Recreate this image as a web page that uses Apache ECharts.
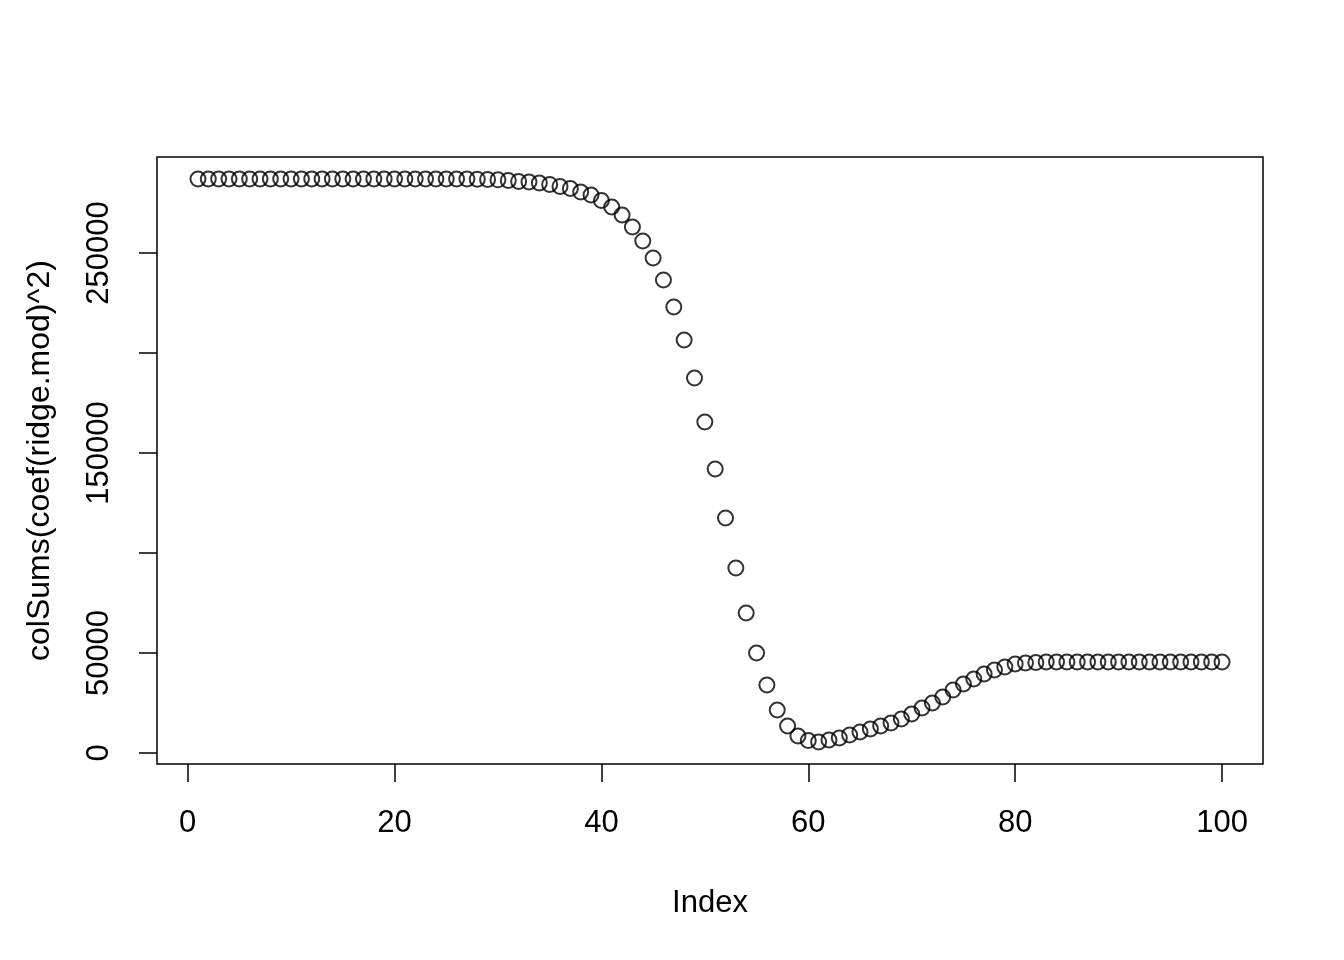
<!DOCTYPE html>
<html>
<head>
<meta charset="utf-8">
<script src="https://cdn.jsdelivr.net/npm/echarts@6/dist/echarts.min.js"></script>
<style>html,body{margin:0;padding:0;background:#fff}#c{width:1344px;height:960px}</style>
</head>
<body>
<div id="c"></div>
<script>
const xLabel = 'Index';
const yLabel = 'colSums(coef(ridge.mod)^2)';
const xTicks = [0, 20, 40, 60, 80, 100];
const yTicks = [0, 50000, 100000, 150000, 200000, 250000];
const yTickLabels = [0, 50000, 150000, 250000];
const values = [
  287000, 287000, 287000, 287000, 287000, 287000, 287000, 287000, 287000, 287000,
  287000, 287000, 287000, 287000, 287000, 287000, 287000, 287000, 287000, 287000,
  287000, 287000, 287000, 287000, 287000, 287000, 287000, 286900, 286800, 286600,
  286300, 285800, 285500, 285000, 284300, 283300, 282250, 280500, 279000, 276250,
  273000, 269000, 263000, 256000, 247500, 236500, 223000, 206500, 187500, 165500,
  142000, 117500, 92500, 70000, 50000, 34000, 21500, 13500, 8500, 6250,
  5500, 6500, 7500, 9000, 10500, 12000, 13500, 15000, 17000, 19500,
  22500, 25000, 28000, 31500, 34500, 37000, 39500, 41500, 43000, 44500,
  45000, 45250, 45500, 45500, 45500, 45500, 45500, 45500, 45500, 45500,
  45500, 45500, 45500, 45500, 45500, 45500, 45500, 45500, 45500, 45500
];
const data = values.map((v, i) => [i + 1, v]);
const font = 'Liberation Sans, Arial, Helvetica, sans-serif';
const chart = echarts.init(document.getElementById('c'), null, {renderer: 'canvas'});
chart.setOption({
  animation: false,
  backgroundColor: '#fff',
  grid: {left: 157, right: 81, top: 157, bottom: 196, show: true, borderColor: '#000', borderWidth: 1.5, backgroundColor: 'transparent'},
  xAxis: {
    type: 'value', min: -2.96, max: 103.96,
    axisLine: {show: false, onZero: false},
    splitLine: {show: false},
    axisTick: {show: true, customValues: xTicks, length: 18, lineStyle: {color: '#000', width: 1.5}},
    axisLabel: {customValues: xTicks, color: '#000', fontSize: 31, fontFamily: font, margin: 44,
      formatter: v => String(v)},
    name: xLabel, nameLocation: 'middle', nameGap: 124,
    nameTextStyle: {color: '#000', fontSize: 31, fontFamily: font}
  },
  yAxis: {
    type: 'value', min: -5500, max: 298000,
    axisLine: {show: false, onZero: false},
    splitLine: {show: false},
    axisTick: {show: true, customValues: yTicks, length: 18, lineStyle: {color: '#000', width: 1.5}},
    axisLabel: {customValues: yTickLabels, rotate: 90, color: '#000', fontSize: 31, fontFamily: font, margin: 42,
      formatter: v => String(v)},
    name: yLabel, nameLocation: 'middle', nameGap: 101, nameRotate: 90,
    nameTextStyle: {color: '#000', fontSize: 32, fontFamily: font}
  },
  series: [{
    type: 'scatter', data: data, symbol: 'circle', symbolSize: 15,
    itemStyle: {color: 'rgba(0,0,0,0)', borderColor: '#000', borderWidth: 2}
  }]
});
</script>
</body>
</html>
